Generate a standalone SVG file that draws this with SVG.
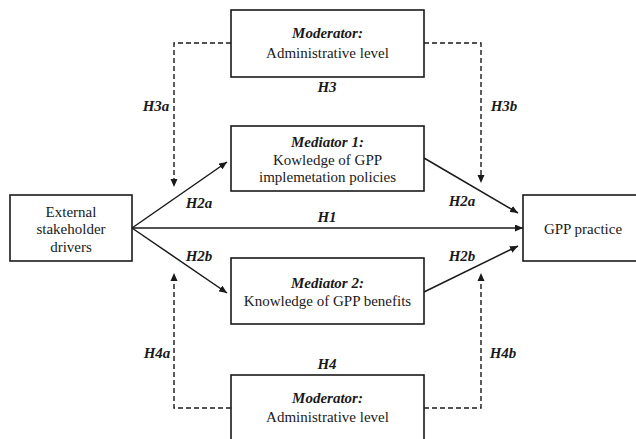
<svg xmlns="http://www.w3.org/2000/svg" width="636" height="439" viewBox="0 0 636 439">
<style>
.box{fill:#fff;stroke:#1a1a1a;stroke-width:1.6}
.t{font-family:"Liberation Serif","Times New Roman",serif;font-size:15px;fill:#1a1a1a;text-anchor:middle}
.b{font-weight:bold;font-style:italic}
.ln{stroke:#1a1a1a;stroke-width:1.5;fill:none}
.dash{stroke:#1a1a1a;stroke-width:1.4;fill:none;stroke-dasharray:5,3}
</style>
<defs>
<marker id="ah" markerUnits="userSpaceOnUse" markerWidth="9" markerHeight="7" refX="8" refY="3.5" orient="auto">
<path d="M0,0 L8,3.5 L0,7 Z" fill="#1a1a1a"/>
</marker>
</defs>
<rect width="636" height="439" fill="#fff"/>
<g id="connectors">
<path class="dash" d="M231,43 H174 V180" />
<path d="M170.5,179 L174,187 L177.5,179 Z" fill="#1a1a1a"/>
<path class="dash" d="M424,43 H481 V176" />
<path d="M477.5,175 L481,183 L484.5,175 Z" fill="#1a1a1a"/>
<path class="dash" d="M231,408 H174 V280" />
<path d="M170.5,281 L174,273 L177.5,281 Z" fill="#1a1a1a"/>
<path class="dash" d="M424,408 H481 V280" />
<path d="M477.5,281 L481,273 L484.5,281 Z" fill="#1a1a1a"/>
<line class="ln" x1="132" y1="228" x2="227" y2="162" marker-end="url(#ah)"/>
<line class="ln" x1="132" y1="228" x2="227" y2="293" marker-end="url(#ah)"/>
<line class="ln" x1="132" y1="228" x2="523" y2="228" marker-end="url(#ah)"/>
<line class="ln" x1="424" y1="158" x2="518" y2="213" marker-end="url(#ah)"/>
<line class="ln" x1="424" y1="292" x2="518" y2="246" marker-end="url(#ah)"/>
<text class="t b" x="327" y="92">H3</text>
<text class="t b" x="156" y="111">H3a</text>
<text class="t b" x="504" y="111">H3b</text>
<text class="t b" x="199" y="208">H2a</text>
<text class="t b" x="462" y="206">H2a</text>
<text class="t b" x="327" y="222">H1</text>
<text class="t b" x="199" y="261">H2b</text>
<text class="t b" x="462" y="261">H2b</text>
<text class="t b" x="157" y="358">H4a</text>
<text class="t b" x="503" y="358">H4b</text>
<text class="t b" x="327" y="369">H4</text>
</g>
<g id="mod-top">
<rect class="box" x="231" y="10" width="193" height="67"/>
<text class="t b" x="327.5" y="38">Moderator:</text>
<text class="t" x="327.5" y="58">Administrative level</text>
</g>
<g id="med1">
<rect class="box" x="231" y="126" width="193" height="65"/>
<text class="t b" x="327.5" y="147">Mediator 1:</text>
<text class="t" x="327.5" y="165">Kowledge of GPP</text>
<text class="t" x="327.5" y="182">implemetation policies</text>
</g>
<g id="external">
<rect class="box" x="10" y="195" width="122" height="66"/>
<text class="t" x="71" y="217">External</text>
<text class="t" x="71" y="234">stakeholder</text>
<text class="t" x="71" y="252">drivers</text>
</g>
<g id="gpp">
<rect class="box" x="523" y="195" width="116" height="66"/>
<text class="t" x="583" y="234">GPP practice</text>
</g>
<g id="med2">
<rect class="box" x="231" y="258" width="193" height="66"/>
<text class="t b" x="327.5" y="288">Mediator 2:</text>
<text class="t" x="327.5" y="306">Knowledge of GPP benefits</text>
</g>
<g id="mod-bottom">
<rect class="box" x="231" y="375" width="193" height="70"/>
<text class="t b" x="327.5" y="403">Moderator:</text>
<text class="t" x="327.5" y="422">Administrative level</text>
</g>
</svg>
